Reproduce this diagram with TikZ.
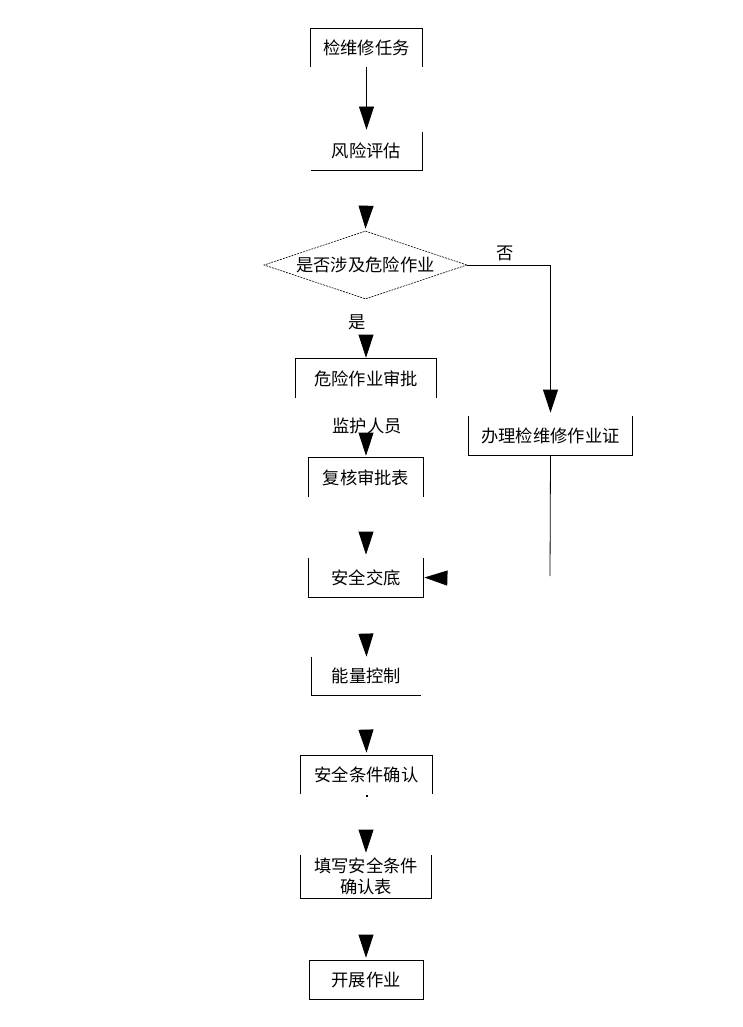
\documentclass[tikz,border=0pt]{standalone}
\usepackage{fontspec}
\newfontfamily\cjk{Noto Sans CJK SC}
\usetikzlibrary{arrows.meta,shapes.geometric}

\begin{document}
\begin{tikzpicture}[x=1pt,y=-1pt,line width=0.8pt,
  font=\cjk\fontsize{17.3}{21}\selectfont,
  box/.style={inner sep=0pt,minimum height=39pt},
  arr/.style={-{Triangle[width=15pt,length=23pt]}}]
  \useasboundingbox (0,0) rectangle (743,1027);

  % boxes
  \node[box,minimum width=111pt,minimum height=38pt] (t1) at (366.5,48) {检维修任务};
  \node[box,minimum width=111pt,minimum height=38pt] (t2) at (366.5,151) {风险评估};
  \node[diamond,draw,dash pattern=on 2pt off 1pt,line width=0.6pt,inner sep=0pt,aspect=3,
        minimum width=203pt,minimum height=68pt] (q) at (365.5,265) {是否涉及危险作业};
  \node[box,minimum width=140pt] (t3) at (366,378.5) {危险作业审批};
  \node[box,minimum width=163pt] (t4) at (550.5,435.5) {办理检维修作业证};
  \node[box,minimum width=114pt] (t5) at (366,477.5) {复核审批表};
  \node[box,minimum width=114pt] (t6) at (366,577.5) {安全交底};
  \node[box,minimum width=109pt,minimum height=38pt] (t7) at (366.5,676) {能量控制};
  \node[box,minimum width=131pt,minimum height=38pt] (t8) at (366.5,775) {安全条件确认};
  \node[box,minimum width=130pt,minimum height=43pt,align=center] (t9) at (366,876.5) {填写安全条件\\确认表};
  \node[box,minimum width=114pt,draw] (t10) at (366,979.5) {开展作业};

  % broken box outlines
  \draw (t1.south west) |- (t1.north east) -- (t1.south east);
  \draw (t2.north east) |- (t2.south west);
  \draw (t3.south west) |- (t3.north east) -- (t3.south east);
  \draw (t4.north west) |- (t4.south east) -- (t4.north east);
  \draw (t5.south west) |- (t5.north east) -- (t5.south east);
  \draw (t6.north west) |- (t6.south east) -- (t6.north east);
  \draw (t7.north west) |- (t7.south east);
  \draw (t8.south west) |- (t8.north east) -- (t8.south east);
  \draw (t9.north west) |- (t9.south east) -- (t9.north east);
  \fill (366,795) rectangle (368,797);

  % labels
  \node (yes) at (357,322) {是};
  \node (no) at (505,253) {否};
  \node (guard) at (367,426) {监护人员};

  % arrow bases
  \coordinate (a2) at (366,208);
  \coordinate (a3) at (366,337);
  \coordinate (a5) at (366,435);
  \coordinate (a6) at (366,534);
  \coordinate (a7) at (366,636);
  \coordinate (a8) at (366,732);
  \coordinate (a9) at (366,832);
  \coordinate (a10) at (366,937);
  \coordinate (b4) at (550,576);
  \coordinate (b6) at (445,578);

  % connectors
  \draw[arr] (t1.south) -- ([yshift=2pt]t2.north);
  \draw[arr] (a2) -- ([yshift=2pt]q.north);
  \draw[arr] (q.east) -| ([yshift=3pt]t4.north);
  \draw[arr] (a3) -- ([yshift=1pt]t3.north);
  \draw[arr] (a5) -- ([yshift=2pt]t5.north);
  \draw (t4.south) -- (b4);
  \draw[arr] (b6) -- ([xshift=1pt]t6.east);
  \draw[arr] (a6) -- ([yshift=3pt]t6.north);
  \draw[arr] (a7) -- (t7.north);
  \draw[arr] (a8) -- ([yshift=3pt]t8.north);
  \draw[arr] (a9) -- ([yshift=2pt]t9.north);
  \draw[arr] (a10) -- ([yshift=2pt]t10.north);
\end{tikzpicture}
\end{document}
